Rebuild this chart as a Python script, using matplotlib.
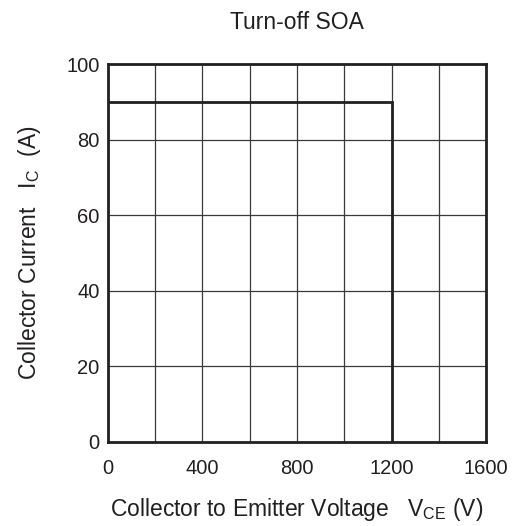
import matplotlib
matplotlib.use("Agg")
import matplotlib.pyplot as plt

plt.rcParams['font.family'] = ['Liberation Sans', 'DejaVu Sans']
plt.rcParams['mathtext.fontset'] = 'custom'
plt.rcParams['mathtext.rm'] = 'Liberation Sans'

# turn-off SOA boundary
vce = [0, 1200, 1200]
ic = [90, 90, 0]

xticks = [0, 400, 800, 1200, 1600]
yticks = [0, 20, 40, 60, 80, 100]
xgrid = [200, 400, 600, 800, 1000, 1200, 1400]
ygrid = [20, 40, 60, 80]

fig = plt.figure(figsize=(5.16, 5.26), dpi=100)
ax = fig.add_axes([0.209, 0.160, 0.733, 0.718])

for x in xgrid:
    ax.axvline(x, color='#3a3a3a', lw=0.9, zorder=1)
for y in ygrid:
    ax.axhline(y, color='#3a3a3a', lw=0.9, zorder=1)

ax.plot(vce, ic, color='#231f20', lw=2.0, zorder=3, solid_joinstyle='miter')

ax.set_xlim(0, 1600)
ax.set_ylim(0, 100)
ax.set_xticks(xticks)
ax.set_yticks(yticks)
ax.tick_params(length=0, labelsize=14.5, colors='#231f20')
ax.tick_params(axis='x', pad=12)
ax.tick_params(axis='y', pad=6)
for s in ax.spines.values():
    s.set_linewidth(2.0)
    s.set_color('#231f20')

ax.set_xlabel(r'Collector to Emitter Voltage   V$_{\mathregular{CE}}$ (V)',
              fontsize=16.5, color='#231f20', labelpad=13)
ax.set_ylabel(r'Collector Current   I$_{\mathregular{C}}$  (A)',
              fontsize=16.5, color='#231f20', labelpad=17)
ax.set_title('Turn-off SOA', fontsize=16.5, color='#231f20', pad=25)

fig.savefig('out.png', dpi=100)
